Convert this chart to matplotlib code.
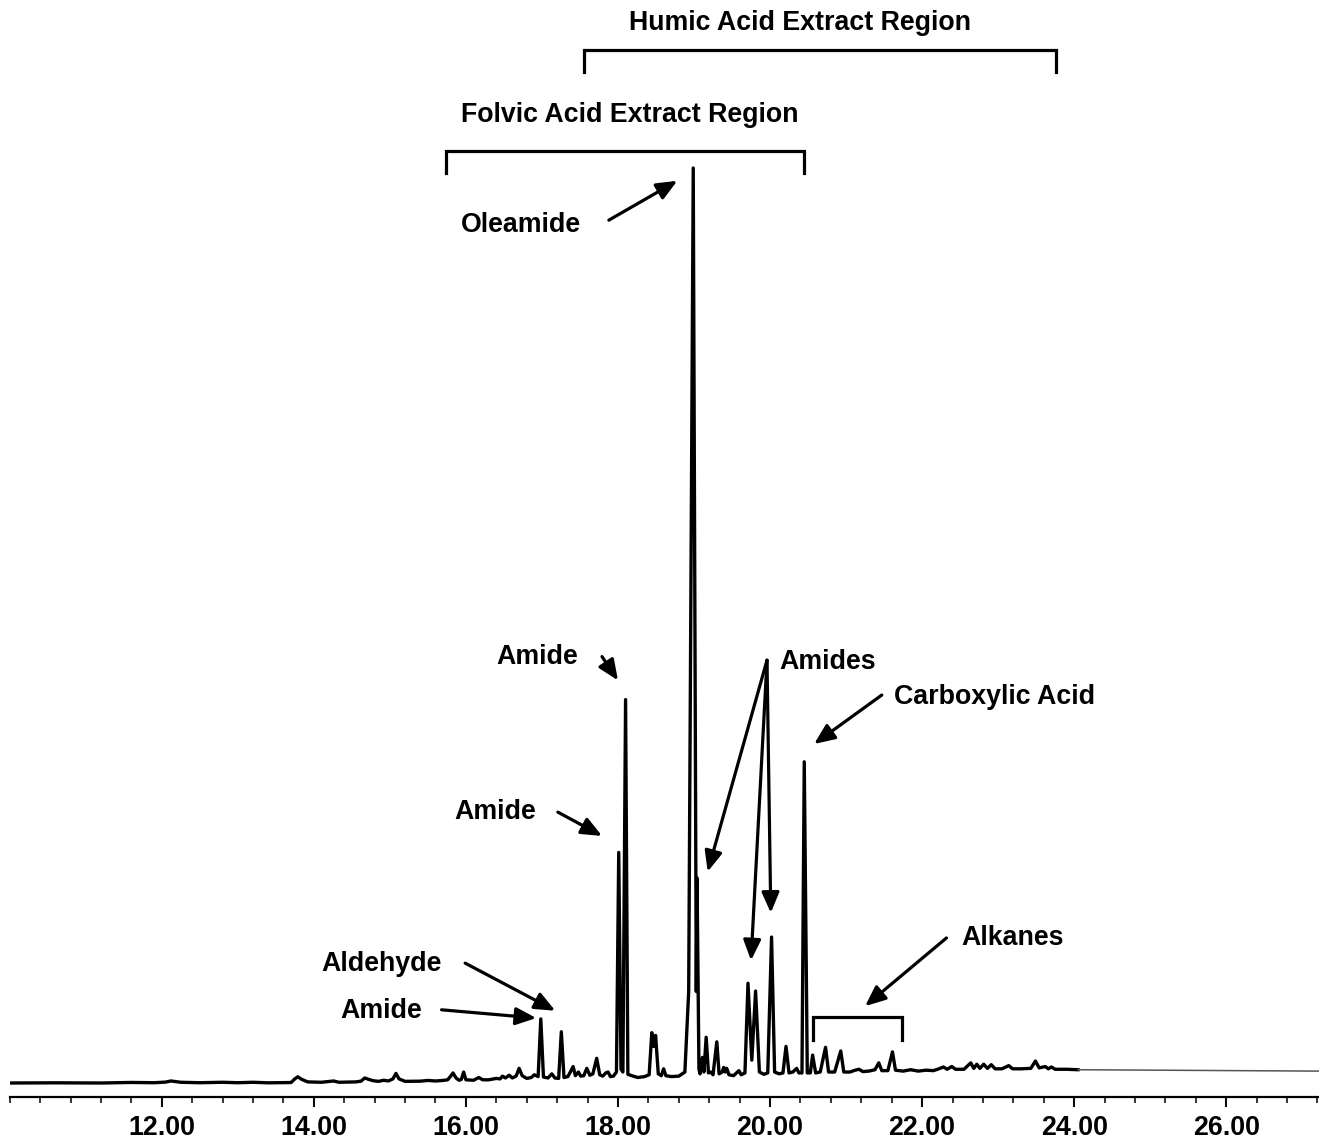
import numpy as np
import matplotlib.pyplot as plt
from matplotlib.ticker import MultipleLocator, FixedLocator, FormatStrFormatter

plt.rcParams['font.family'] = ['Liberation Sans', 'DejaVu Sans']
plt.rcParams['font.weight'] = 'bold'

# retention time (min) and relative abundance (%) of the TIC trace
rt = [10.00, 10.60, 11.20, 11.60, 11.90, 12.05, 12.12, 12.25, 12.50, 12.80,
      13.00, 13.20, 13.40, 13.70, 13.75, 13.79, 13.84, 13.92, 14.10, 14.26,
      14.33, 14.55, 14.62, 14.67, 14.72, 14.78, 14.85, 14.92, 14.98, 15.04,
      15.08, 15.12, 15.20, 15.40, 15.50, 15.60, 15.70, 15.76, 15.80, 15.83,
      15.87, 15.91, 15.94, 15.97, 16.00, 16.10, 16.17, 16.22, 16.30, 16.40,
      16.45, 16.48, 16.52, 16.57, 16.61, 16.66, 16.70, 16.74, 16.80, 16.86,
      16.90, 16.95, 16.985, 17.02, 17.08, 17.13, 17.17, 17.22, 17.255, 17.29,
      17.34, 17.38, 17.41, 17.44, 17.48, 17.51, 17.55, 17.59, 17.63, 17.67,
      17.72, 17.76, 17.80, 17.84, 17.87, 17.90, 17.94, 17.98, 18.01, 18.04,
      18.065, 18.10, 18.13, 18.20, 18.26, 18.35, 18.41, 18.445, 18.47, 18.495,
      18.53, 18.57, 18.60, 18.63, 18.70, 18.80, 18.88, 18.93, 18.99, 19.03,
      19.04, 19.065, 19.08, 19.11, 19.13, 19.16, 19.19, 19.22, 19.25, 19.30,
      19.33, 19.37, 19.39, 19.41, 19.43, 19.46, 19.52, 19.59, 19.62, 19.67,
      19.71, 19.76, 19.81, 19.86, 19.92, 19.97, 20.02, 20.06, 20.12, 20.17,
      20.21, 20.25, 20.30, 20.35, 20.38, 20.42, 20.45, 20.49, 20.53, 20.56,
      20.60, 20.66, 20.73, 20.77, 20.85, 20.93, 20.97, 21.05, 21.12, 21.17,
      21.22, 21.30, 21.38, 21.43, 21.47, 21.55, 21.61, 21.65, 21.75, 21.85,
      21.95, 22.05, 22.15, 22.22, 22.28, 22.33, 22.39, 22.44, 22.55, 22.64,
      22.68, 22.72, 22.76, 22.81, 22.86, 22.91, 22.96, 23.05, 23.14, 23.19,
      23.30, 23.43, 23.49, 23.54, 23.62, 23.66, 23.70, 23.75, 23.90, 24.05]
abundance = [0.00, 0.02, 0.00, 0.06, 0.03, 0.10, 0.22, 0.08, 0.03, 0.08,
             0.03, 0.08, 0.02, 0.05, 0.45, 0.68, 0.40, 0.12, 0.08, 0.22,
             0.08, 0.12, 0.20, 0.55, 0.40, 0.25, 0.18, 0.30, 0.22, 0.45,
             1.05, 0.45, 0.18, 0.20, 0.28, 0.22, 0.28, 0.35, 0.75, 1.10,
             0.55, 0.30, 0.40, 1.20, 0.35, 0.30, 0.60, 0.35, 0.35, 0.50,
             0.45, 0.75, 0.55, 0.85, 0.55, 0.75, 1.60, 0.80, 0.50, 0.60,
             0.90, 0.70, 7.00, 0.65, 0.55, 1.00, 0.55, 0.50, 5.60, 0.60,
             0.70, 1.30, 1.80, 0.80, 1.20, 0.75, 0.80, 1.60, 0.85, 1.00,
             2.70, 0.90, 0.75, 1.10, 1.20, 0.70, 0.75, 1.20, 25.2, 1.50,
             1.20, 41.9, 0.95, 0.75, 0.60, 0.70, 0.90, 5.50, 4.00, 5.20,
             1.00, 0.80, 1.55, 0.80, 0.70, 0.75, 1.20, 10.0, 100.0, 10.0,
             22.4, 1.50, 1.00, 2.80, 1.20, 5.00, 1.10, 1.20, 0.90, 4.50,
             1.00, 1.20, 1.70, 1.20, 1.60, 0.90, 0.80, 1.35, 0.90, 1.10,
             10.9, 2.50, 10.05, 1.20, 0.95, 1.10, 15.95, 1.20, 1.00, 1.10,
             4.00, 1.10, 1.20, 1.60, 1.10, 1.10, 35.1, 1.10, 1.10, 3.05,
             1.10, 1.20, 3.90, 1.20, 1.20, 3.50, 1.20, 1.20, 1.40, 1.50,
             1.25, 1.30, 1.45, 2.20, 1.35, 1.35, 3.40, 1.40, 1.30, 1.45,
             1.30, 1.40, 1.35, 1.55, 1.75, 1.50, 1.80, 1.50, 1.50, 2.20,
             1.60, 2.05, 1.60, 2.05, 1.60, 2.00, 1.55, 1.55, 1.90, 1.55,
             1.55, 1.60, 2.40, 1.65, 1.80, 1.55, 1.75, 1.50, 1.50, 1.45]

# flat tail after the end of the acquisition
tail_rt = [24.05, 27.22]
tail_abundance = [1.45, 1.30]

major_ticks = [12, 14, 16, 18, 20, 22, 24, 26]

# labelled peaks: text, text position, arrow start, arrow tips
labels = ['Oleamide', 'Amide', 'Amide', 'Amides', 'Carboxylic Acid',
          'Aldehyde', 'Amide', 'Alkanes']
label_xy = [(16.73, 93.8), (16.94, 46.6), (16.39, 29.6), (20.76, 46.0),
            (22.955, 42.2), (14.89, 13.0), (14.89, 7.9), (23.19, 15.8)]
arrow_tail = [(17.88, 94.3), (17.79, 46.6), (17.21, 29.6), (19.96, 46.2),
              (21.47, 42.4), (15.99, 13.1), (15.68, 8.0), (22.32, 15.85)]
arrow_tips = [[(18.78, 98.6)], [(18.00, 44.0)], [(17.79, 27.0)],
              [(19.18, 23.1), (19.75, 13.4), (20.01, 18.6)],
              [(20.58, 37.05)], [(17.175, 7.9)], [(16.925, 7.1)],
              [(21.25, 8.4)]]

# extract regions: label, label centre, bracket span, bracket height
regions = ['Humic Acid Extract Region', 'Folvic Acid Extract Region']
region_text_xy = [(20.40, 115.9), (18.15, 105.8)]
region_span = [(17.556, 23.755), (15.743, 20.445)]
region_y = [112.9, 101.9]
alkane_span = (20.564, 21.733)
alkane_y = 7.2

fig = plt.figure(figsize=(13.19, 11.43), dpi=100)
ax = fig.add_axes([9.7 / 1319, 46 / 1143, 1 - 9.7 / 1319, 1097 / 1143])

ax.plot(rt, abundance, color='black', lw=2.4, solid_joinstyle='round')
ax.plot(tail_rt, tail_abundance, color='#555555', lw=1.1)

ax.set_xlim(10, 27.22)
ax.set_ylim(-1.53, 118.36)

for s in ['left', 'right', 'top']:
    ax.spines[s].set_visible(False)
ax.spines['bottom'].set_linewidth(1.6)
ax.set_yticks([])
ax.xaxis.set_major_locator(FixedLocator(major_ticks))
ax.xaxis.set_minor_locator(MultipleLocator(0.4))
ax.xaxis.set_major_formatter(FormatStrFormatter('%.2f'))
ax.tick_params(axis='x', which='major', length=7, width=1.4, labelsize=19.3, pad=6)
ax.tick_params(axis='x', which='minor', length=4, width=1.1)
for t in ax.get_xticklabels():
    t.set_fontweight('bold')

# region brackets
for name, (tx, ty), (x0, x1), yb in zip(regions, region_text_xy, region_span, region_y):
    ax.plot([x0, x0, x1, x1], [yb - 2.4, yb, yb, yb - 2.4], color='black',
            lw=2.3, solid_joinstyle='miter', clip_on=False)
    ax.text(tx, ty, name, ha='center', va='center', fontsize=19.3,
            fontweight='bold')

ax.plot([alkane_span[0], alkane_span[0], alkane_span[1], alkane_span[1]],
        [alkane_y - 2.5, alkane_y, alkane_y, alkane_y - 2.5],
        color='black', lw=2.3, solid_joinstyle='miter')

# peak labels and arrows
for name, xy, tail, tips in zip(labels, label_xy, arrow_tail, arrow_tips):
    ax.text(xy[0], xy[1], name, ha='center', va='center', fontsize=19.3,
            fontweight='bold')
    for tip in tips:
        ax.annotate('', xy=tip, xytext=tail,
                    arrowprops=dict(arrowstyle='-|>,head_length=0.65,head_width=0.28',
                                    lw=2.3, color='black', shrinkA=0, shrinkB=0,
                                    mutation_scale=19))

fig.savefig('out.png', dpi=100)
